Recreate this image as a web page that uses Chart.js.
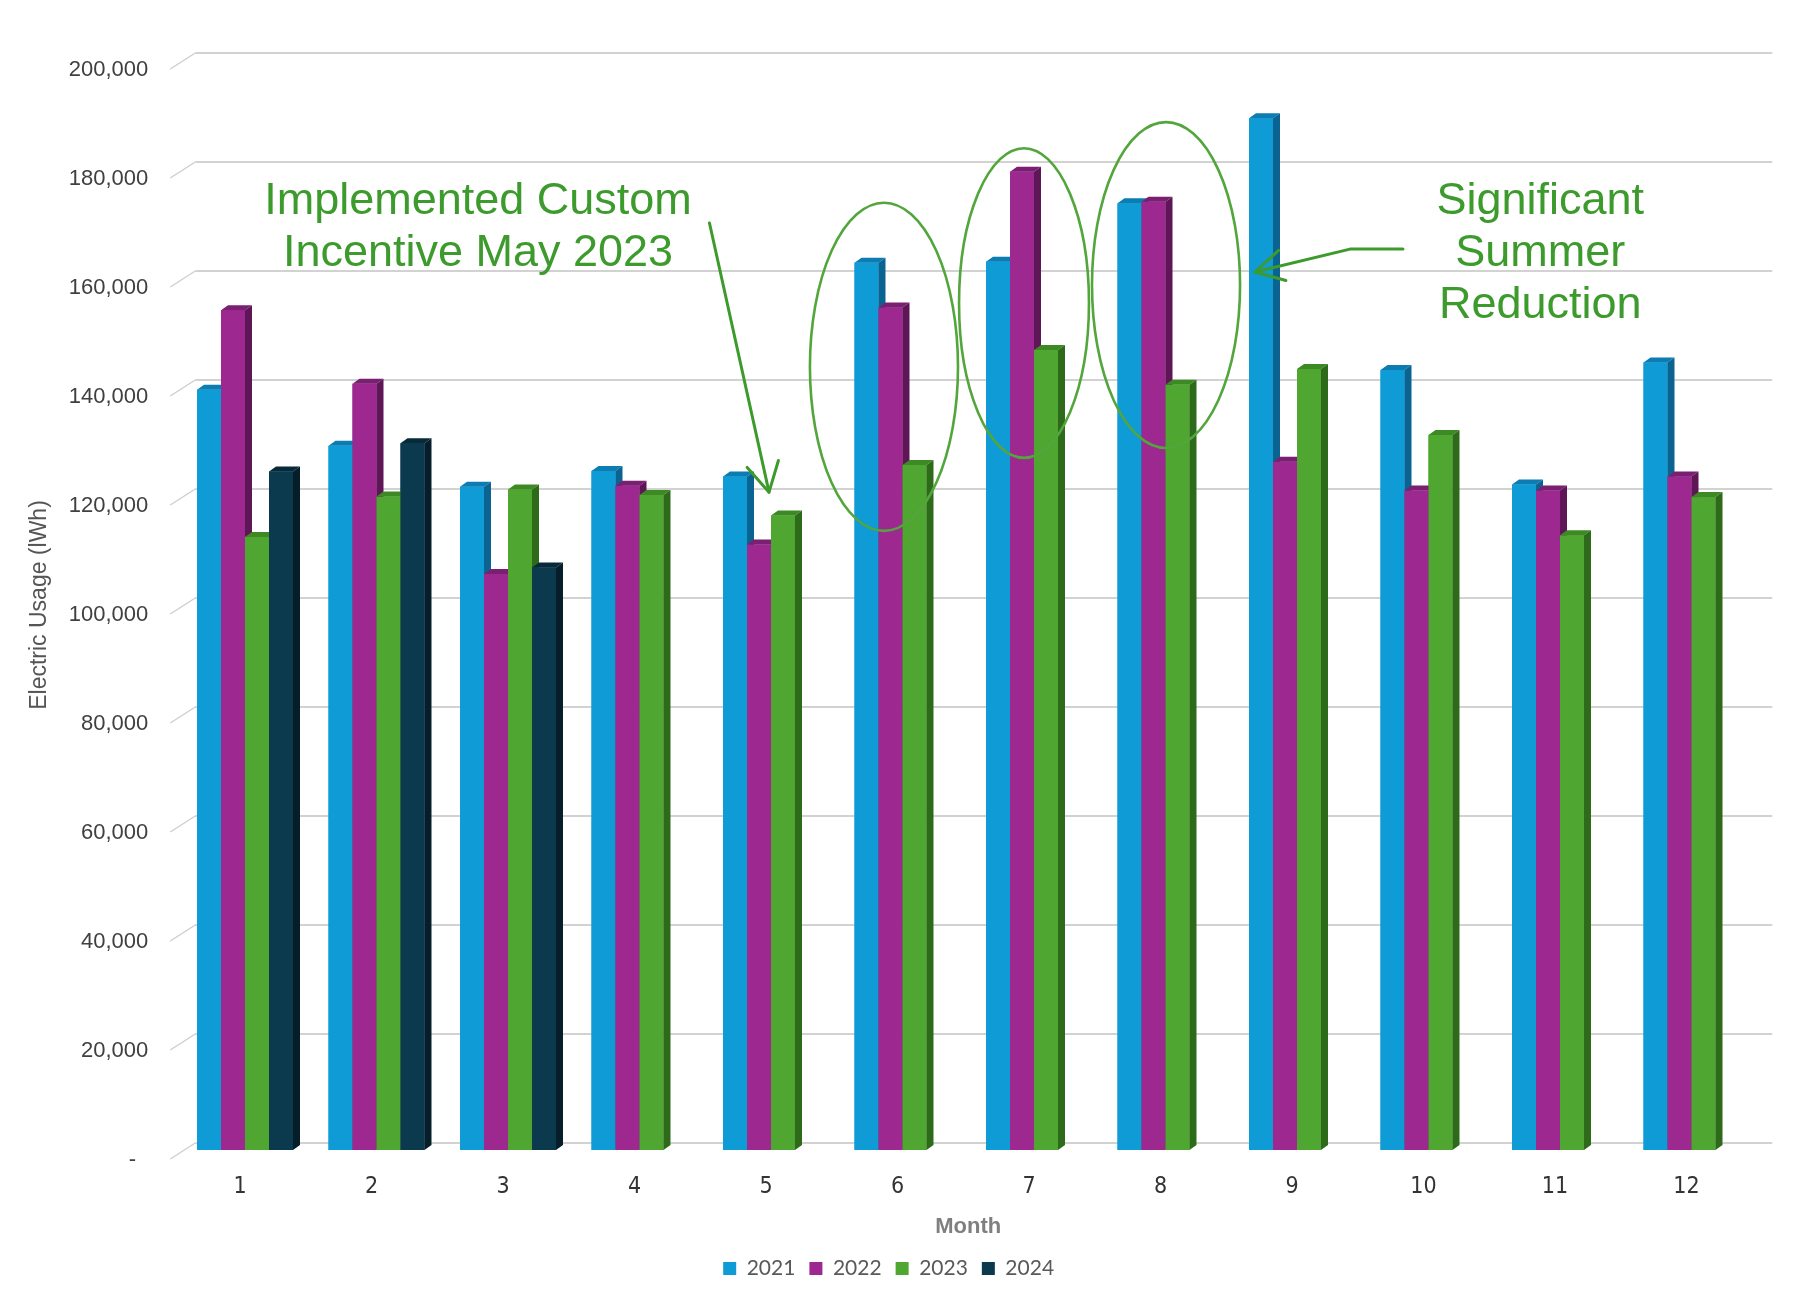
<!DOCTYPE html>
<html>
<head>
<meta charset="utf-8">
<script src="https://cdn.jsdelivr.net/npm/chart.js@4.4.1/dist/chart.umd.min.js"></script>
<style>
  html, body { margin: 0; padding: 0; background: #ffffff; }
  #wrap { width: 1800px; height: 1299px; }
</style>
</head>
<body>
<div id="wrap"><canvas id="c" width="1800" height="1299"></canvas></div>
<script>
// ---------------- DATA ----------------
const months = ['1','2','3','4','5','6','7','8','9','10','11','12'];
const years = ['2021','2022','2023','2024'];
const usage2021 = [139500,129200,121700,124600,123600,162800,163000,173700,189300,143100,122100,144500];
const usage2022 = [154100,140600,105700,121900,111100,154600,179500,174000,126300,121000,121000,123600];
const usage2023 = [112500,119900,121200,120200,116400,125700,146800,140400,143300,131200,112800,119800];
const usage2024 = [124500,129700,106900,null,null,null,null,null,null,null,null,null];
const yTicks = [0,20000,40000,60000,80000,100000,120000,140000,160000,180000,200000];

const noteIncentive = ['Implemented Custom', 'Incentive May 2023'];
const noteSummer = ['Significant', 'Summer', 'Reduction'];

// ---------------- STYLE ----------------
const series = [usage2021, usage2022, usage2023, usage2024];
const frontColors = ['#0f9cd6', '#9c2890', '#4fa630', '#0b3a4e'];
const topColors   = ['#0b7db3', '#7a1f71', '#3d8a25', '#072a3a'];
const sideColors  = ['#0a6391', '#5f1657', '#2d6b1a', '#051e2a'];
const noteGreen = '#3d9a2c';

// annotation anchors in data space (category index, value)
const incentiveText = { i: 1.772, v: [171700, 162200] };
const summerText = { i: 9.85, v: [171700, 162200, 152700] };
const incentiveArrow = [[3.532, 170100], [3.985, 120700]];
const summerArrow = [[8.806, 165300], [8.403, 165300], [7.681, 161100]];
const ellipses = [
  { i: 4.859, v: 143700, ri: 0.563, rv: 30100 },
  { i: 5.924, v: 155400, ri: 0.494, rv: 28400 },
  { i: 7.004, v: 158700, ri: 0.563, rv: 29900 }
];

function poly(ctx, pts) {
  ctx.beginPath();
  ctx.moveTo(pts[0][0], pts[0][1]);
  for (let k = 1; k < pts.length; k++) ctx.lineTo(pts[k][0], pts[k][1]);
  ctx.closePath();
  ctx.fill();
}

const grid3d = {
  id: 'grid3d',
  beforeDatasetsDraw(chart) {
    const { ctx, chartArea, scales: { y } } = chart;
    ctx.save();
    y.ticks.forEach(t => {
      const yb = y.getPixelForValue(t.value) - 7;
      ctx.strokeStyle = '#cfcfcf';
      ctx.lineWidth = 1.4;
      ctx.beginPath();
      ctx.moveTo(chartArea.left - 9, yb + 16);
      ctx.lineTo(chartArea.left + 16, yb);
      ctx.stroke();
      ctx.strokeStyle = '#d2d2d2';
      ctx.lineWidth = 2;
      ctx.beginPath();
      ctx.moveTo(chartArea.left + 16, yb);
      ctx.lineTo(chartArea.right + 15, yb);
      ctx.stroke();
    });
    ctx.restore();
  }
};

const bar3d = {
  id: 'bar3d',
  afterDatasetsDraw(chart) {
    const ctx = chart.ctx;
    const dx = 7, dy = 5;
    ctx.save();
    for (let j = 0; j < chart.data.labels.length; j++) {
      chart.data.datasets.forEach((ds, k) => {
        const el = chart.getDatasetMeta(k).data[j];
        if (!el || ds.data[j] == null) return;
        const x0 = el.x - el.width / 2, x1 = el.x + el.width / 2;
        const top = el.y, base = el.base;
        ctx.fillStyle = frontColors[k];
        ctx.fillRect(x0, top, x1 - x0, base - top);
        ctx.fillStyle = topColors[k];
        poly(ctx, [[x0, top], [x0 + dx, top - dy], [x1 + dx, top - dy], [x1, top]]);
        ctx.fillStyle = sideColors[k];
        poly(ctx, [[x1, top], [x1 + dx, top - dy], [x1 + dx, base - dy], [x1, base]]);
      });
    }
    ctx.restore();
  }
};

function drawArrowHead(ctx, from, tip, len, angDeg) {
  const ang = Math.atan2(from[1] - tip[1], from[0] - tip[0]);
  const a = angDeg * Math.PI / 180;
  ctx.beginPath();
  ctx.moveTo(tip[0] + len * Math.cos(ang + a), tip[1] + len * Math.sin(ang + a));
  ctx.lineTo(tip[0], tip[1]);
  ctx.lineTo(tip[0] + len * Math.cos(ang - a), tip[1] + len * Math.sin(ang - a));
  ctx.stroke();
}

const notes = {
  id: 'notes',
  afterDatasetsDraw(chart) {
    const { ctx, scales: { x, y } } = chart;
    const px = i => x.getPixelForValue(i);
    const py = v => y.getPixelForValue(v);
    ctx.save();
    // ellipses
    ctx.strokeStyle = '#52a63c';
    ctx.lineWidth = 2.6;
    ellipses.forEach(e => {
      const cx = px(e.i), cy = py(e.v);
      const rx = px(e.i + e.ri) - cx, ry = cy - py(e.v + e.rv);
      ctx.beginPath();
      ctx.ellipse(cx, cy, rx, ry, 0, 0, Math.PI * 2);
      ctx.stroke();
    });
    // arrows
    ctx.strokeStyle = noteGreen;
    ctx.lineWidth = 3;
    ctx.lineCap = 'round';
    ctx.lineJoin = 'round';
    const a1 = incentiveArrow.map(p => [px(p[0]), py(p[1])]);
    ctx.beginPath();
    ctx.moveTo(a1[0][0], a1[0][1]);
    ctx.lineTo(a1[1][0], a1[1][1]);
    ctx.stroke();
    drawArrowHead(ctx, a1[0], a1[1], 33, 29);
    const a2 = summerArrow.map(p => [px(p[0]), py(p[1])]);
    ctx.beginPath();
    ctx.moveTo(a2[0][0], a2[0][1]);
    a2.slice(1).forEach(p => ctx.lineTo(p[0], p[1]));
    ctx.stroke();
    drawArrowHead(ctx, a2[1], a2[2], 32, 29);
    // texts
    ctx.fillStyle = noteGreen;
    ctx.font = '45px "Liberation Sans", Arial, sans-serif';
    ctx.textAlign = 'center';
    ctx.textBaseline = 'alphabetic';
    noteIncentive.forEach((t, k) => ctx.fillText(t, px(incentiveText.i), py(incentiveText.v[k])));
    noteSummer.forEach((t, k) => ctx.fillText(t, px(summerText.i), py(summerText.v[k])));
    ctx.restore();
  }
};

const chart = new Chart(document.getElementById('c').getContext('2d'), {
  type: 'bar',
  data: {
    labels: months,
    datasets: years.map((yr, k) => ({
      label: yr,
      data: series[k],
      backgroundColor: frontColors[k],
      borderWidth: 0,
      barPercentage: 1,
      categoryPercentage: 0.73
    }))
  },
  options: {
    responsive: false,
    animation: false,
    devicePixelRatio: 1,
    events: [],
    layout: { padding: { left: 20, right: 42.75, top: 60, bottom: 10 } },
    plugins: {
      legend: {
        position: 'bottom',
        labels: {
          boxWidth: 13, boxHeight: 13, padding: 14,
          color: '#595959',
          font: { family: 'Lato, "Liberation Sans", sans-serif', size: 21 }
        }
      },
      tooltip: { enabled: false }
    },
    scales: {
      x: {
        grid: { display: false, drawTicks: false, tickLength: 0 },
        border: { display: false },
        ticks: {
          padding: 23, labelOffset: -5, color: '#333333',
          font: { family: '"Liberation Sans Narrow", "DejaVu Sans Condensed", "Liberation Sans", sans-serif', size: 23 }
        },
        title: {
          display: true, text: 'Month', color: '#7f7f7f', padding: { top: 0, bottom: 4 },
          font: { family: '"Liberation Sans", sans-serif', size: 22, weight: 'bold' }
        },
        afterFit(s) { s.height = 94; }
      },
      y: {
        min: 0, max: 200000,
        afterBuildTicks(s) { s.ticks = yTicks.map(v => ({ value: v })); },
        grid: { display: false, drawTicks: false, tickLength: 0 },
        border: { display: false },
        ticks: {
          padding: 31, labelOffset: 10, color: '#404040',
          font: { family: '"Liberation Sans", sans-serif', size: 22 },
          callback: v => v === 0 ? '-\u2007' : Number(v).toLocaleString('en-US')
        },
        title: {
          display: true, text: 'Electric Usage (lWh)', color: '#555555',
          padding: { top: 6, bottom: 0 },
          font: { family: '"Liberation Sans", sans-serif', size: 23 }
        },
        afterFit(s) { s.width = 159.25; }
      }
    }
  },
  plugins: [grid3d, bar3d, notes]
});
</script>
</body>
</html>
